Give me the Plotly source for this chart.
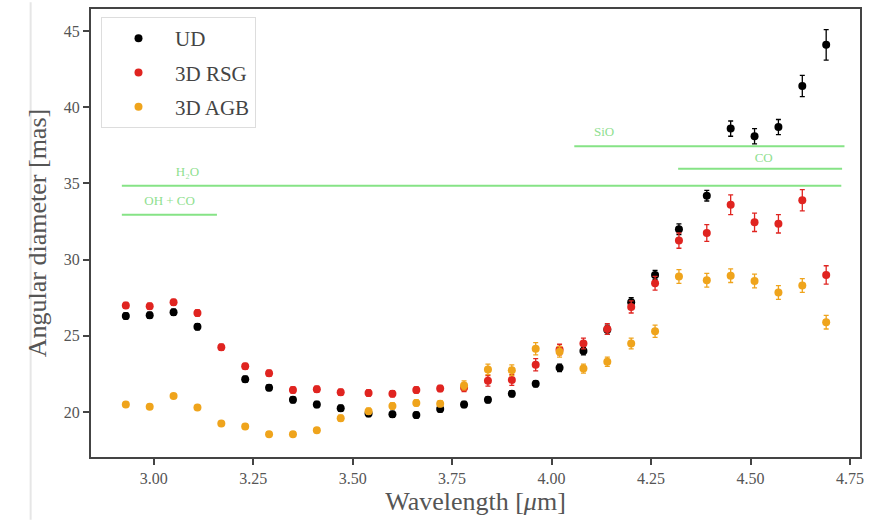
import plotly.graph_objects as go

wavelength = [2.93, 2.99, 3.05, 3.11, 3.17, 3.23, 3.29, 3.35, 3.41, 3.47,
              3.54, 3.60, 3.66, 3.72, 3.78, 3.84, 3.90, 3.96, 4.02, 4.08,
              4.14, 4.20, 4.26, 4.32, 4.39, 4.45, 4.51, 4.57, 4.63, 4.69]

ud = [26.3, 26.35, 26.55, 25.6, None, 22.15, 21.6, 20.8, 20.5, 20.25,
      19.9, 19.85, 19.8, 20.2, 20.5, 20.8, 21.2, 21.85, 22.9, 24.0,
      25.4, 27.2, 29.0, 32.0, 34.2, 38.6, 38.1, 38.7, 41.4, 44.1]
ud_err = [0.2, 0.2, 0.2, 0.2, 0.2, 0.2, 0.2, 0.2, 0.2, 0.2,
          0.2, 0.2, 0.2, 0.2, 0.2, 0.2, 0.2, 0.2, 0.25, 0.25,
          0.3, 0.3, 0.3, 0.35, 0.35, 0.5, 0.5, 0.5, 0.7, 1.0]

rsg = [27.0, 26.95, 27.2, 26.5, 24.25, 23.0, 22.55, 21.45, 21.5, 21.3,
       21.25, 21.2, 21.45, 21.55, 21.6, 22.05, 22.1, 23.1, 24.1, 24.5,
       25.45, 26.9, 28.45, 31.25, 31.75, 33.6, 32.45, 32.35, 33.9, 29.0]
rsg_err = [0.2, 0.2, 0.2, 0.2, 0.2, 0.2, 0.2, 0.2, 0.2, 0.2,
           0.2, 0.2, 0.2, 0.2, 0.25, 0.35, 0.35, 0.4, 0.35, 0.35,
           0.35, 0.4, 0.45, 0.5, 0.55, 0.65, 0.6, 0.6, 0.7, 0.6]

agb = [20.5, 20.35, 21.05, 20.3, 19.25, 19.05, 18.55, 18.55, 18.8, 19.6,
       20.05, 20.4, 20.6, 20.55, 21.75, 22.8, 22.75, 24.15, 23.95, 22.85,
       23.3, 24.5, 25.3, 28.9, 28.65, 28.95, 28.6, 27.85, 28.3, 25.9]
agb_err = [0.15, 0.15, 0.15, 0.15, 0.15, 0.15, 0.15, 0.15, 0.15, 0.2,
           0.2, 0.2, 0.2, 0.2, 0.3, 0.35, 0.35, 0.4, 0.35, 0.3,
           0.3, 0.35, 0.4, 0.45, 0.45, 0.45, 0.45, 0.45, 0.45, 0.45]

band_names = ["H\u2082O", "OH + CO", "SiO", "CO"]
band_start = [2.92, 2.92, 4.057, 4.318]
band_end = [4.728, 3.159, 4.736, 4.73]
band_level = [34.85, 32.95, 37.45, 35.97]
label_x = [3.085, 3.04, 4.132, 4.533]
label_y = [35.7, 33.8, 38.3, 36.6]

GREEN = "#86e386"
FONT = "Liberation Serif, serif"

fig = go.Figure()

for name, s, e, lv in zip(band_names, band_start, band_end, band_level):
    fig.add_trace(go.Scatter(x=[s, e], y=[lv, lv], mode="lines",
                             line=dict(color=GREEN, width=2),
                             showlegend=False, hoverinfo="skip"))

fig.add_trace(go.Scatter(
    x=label_x, y=label_y, mode="text", text=band_names,
    textfont=dict(family=FONT, size=13, color="#8fe08f"),
    showlegend=False, hoverinfo="skip"))

series = [("UD", ud, ud_err, "black"),
          ("3D RSG", rsg, rsg_err, "#e02420"),
          ("3D AGB", agb, agb_err, "#efa41c")]
for name, vals, errs, col in series:
    fig.add_trace(go.Scatter(
        x=wavelength, y=vals, mode="markers", name=name, legendgroup=name,
        marker=dict(color=col, size=8),
        error_y=dict(type="data", array=errs, color=col, thickness=1.3, width=2.5),
    ))

fig.update_layout(
    width=871, height=522,
    margin=dict(l=91, r=8, t=7, b=65),
    paper_bgcolor="white", plot_bgcolor="white",
    font=dict(family=FONT, color="#555555"),
    legend=dict(x=0.013, y=0.982, xanchor="left", yanchor="top",
                bgcolor="white", bordercolor="#dddddd", borderwidth=1,
                font=dict(family=FONT, size=21, color="#444444"),
                itemwidth=63, tracegroupgap=4),
    showlegend=True,
)
fig.update_xaxes(range=[2.8425, 4.775], tickvals=[3.0, 3.25, 3.5, 3.75, 4.0, 4.25, 4.5, 4.75],
                 ticktext=["3.00", "3.25", "3.50", "3.75", "4.00", "4.25", "4.50", "4.75"],
                 ticks="outside", ticklen=6, tickwidth=1.5, tickcolor="#444444",
                 showgrid=False, zeroline=False, showline=True, linecolor="#444444",
                 linewidth=2, mirror=True,
                 tickfont=dict(family=FONT, size=16, color="#555555"),
                 title=dict(text="Wavelength [<i>\u03bc</i>m]", font=dict(family=FONT, size=26, color="#555555"),
                            standoff=2))
fig.update_yaxes(range=[17.05, 46.45], tickvals=[20, 25, 30, 35, 40, 45],
                 ticks="outside", ticklen=6, tickwidth=1.5, tickcolor="#444444",
                 showgrid=False, zeroline=False, showline=True, linecolor="#444444",
                 linewidth=2, mirror=True,
                 tickfont=dict(family=FONT, size=16, color="#555555"),
                 title=dict(text="Angular diameter [mas]", font=dict(family=FONT, size=26, color="#555555"),
                            standoff=10))

fig.add_shape(type="line", xref="paper", yref="paper", x0=-0.0785, x1=-0.0785, y0=-0.14, y1=1.015,
              line=dict(color="#e6e6e6", width=2))

fig.write_html("out.html")
